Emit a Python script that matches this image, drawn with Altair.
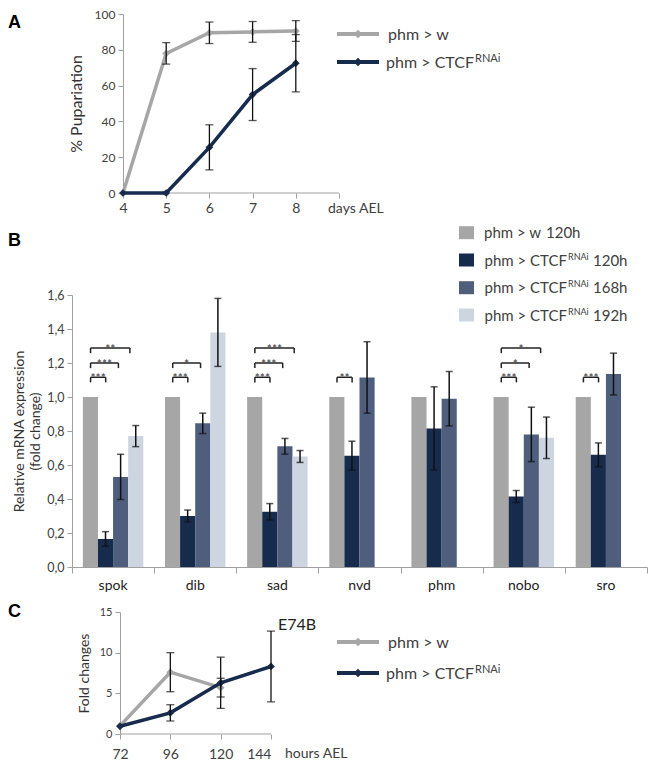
import altair as alt
import pandas as pd

FONT = "Lato"
GRAY = "#a6a6a6"
NAVY = "#172b4d"
CHECK = "#4e5e7c"
DOTS = "#cdd5e1"
AXIS = "#a0a0a0"
TXT = "#404040"
BLACK = "#111111"

# ---------------- Panel A data ----------------
days = [4, 5, 6, 7, 8]
pup_w = [0, 78, 89.5, 90, 90.5]
pup_w_err = [0, 6, 6, 5.8, 5.8]
pup_ctcf = [0, 0, 25.5, 55, 72.5]
pup_ctcf_err = [0, 0, 12.6, 14.5, 16]

# ---------------- Panel B data ----------------
genes = ["spok", "dib", "sad", "nvd", "phm", "nobo", "sro"]
series_b = ["w 120h", "CTCF 120h", "CTCF 168h", "CTCF 192h"]
expr_w120 = [1.0, 1.0, 1.0, 1.0, 1.0, 1.0, 1.0]
expr_w120_err = [0, 0, 0, 0, 0, 0, 0]
expr_c120 = [0.165, 0.30, 0.325, 0.655, 0.815, 0.415, 0.66]
expr_c120_err = [0.043, 0.035, 0.048, 0.085, 0.245, 0.035, 0.07]
expr_c168 = [0.53, 0.845, 0.71, 1.115, 0.99, 0.78, 1.135]
expr_c168_err = [0.133, 0.06, 0.046, 0.21, 0.16, 0.16, 0.123]
expr_c192 = [0.77, 1.38, 0.65, None, None, 0.76, None]
expr_c192_err = [0.062, 0.2, 0.035, None, None, 0.122, None]

sig_gene = ["spok", "spok", "spok", "dib", "dib", "sad", "sad", "sad",
            "nvd", "nobo", "nobo", "nobo", "sro"]
sig_vs = ["CTCF 120h", "CTCF 168h", "CTCF 192h", "CTCF 120h", "CTCF 168h",
          "CTCF 120h", "CTCF 168h", "CTCF 192h", "CTCF 120h",
          "CTCF 120h", "CTCF 168h", "CTCF 192h", "CTCF 120h"]
sig_label = ["***", "***", "**", "***", "*", "***", "***", "***",
             "**", "***", "*", "*", "***"]

# ---------------- Panel C data ----------------
hours = [72, 96, 120, 144]
e74_w = [1.0, 7.6, 5.7, None]
e74_w_err = [0, 2.4, 1.15, None]
e74_c = [0.95, 2.6, 6.3, 8.3]
e74_c_err = [0, 1.0, 3.15, 4.35]

# ---------------- layout constants ----------------
B_START, B_W = 0.132, 0.184
BR_START = 0.226
BR_END = {"CTCF 120h": 0.41, "CTCF 168h": 0.565, "CTCF 192h": 0.705}
BR_LVL = {"CTCF 120h": 1.116, "CTCF 168h": 1.20, "CTCF 192h": 1.288}
BR_TICK = 0.03
LETTER_X = -64
SERIES_COLORS = {"1w": GRAY, "2c": NAVY}

ONE = pd.DataFrame({"k": [0]})


def txt(s, x, y, size, align="left", baseline="alphabetic", color=TXT,
        weight="normal", font=FONT):
    return alt.Chart(ONE).mark_text(
        text=s, align=align, baseline=baseline, fontSize=size, color=color,
        fontWeight=weight, font=font
    ).encode(x=alt.value(x), y=alt.value(y))


def hline(x1, x2, y, color, w=4):
    return alt.Chart(ONE).mark_rule(color=color, strokeWidth=w).encode(
        x=alt.value(x1), x2=alt.value(x2), y=alt.value(y))


def diamond(x, y, color, size=70):
    return alt.Chart(ONE).mark_point(
        shape="diamond", filled=True, size=size, color=color, opacity=1
    ).encode(x=alt.value(x), y=alt.value(y))


def swatch(x1, x2, y1, y2, color):
    return alt.Chart(ONE).mark_rect(color=color).encode(
        x=alt.value(x1), x2=alt.value(x2), y=alt.value(y1), y2=alt.value(y2))


def line_legend(x1, x2, xm, xt, xr, ys, size):
    parts = []
    colors = [GRAY, NAVY]
    for k, y in enumerate(ys):
        parts.append(hline(x1, x2, y, colors[k]))
        parts.append(diamond(xm, y, colors[k]))
    parts.append(txt("phm > w", xt, ys[0] + 6, size))
    parts.append(txt("phm > CTCF", xr, ys[1] + 6, size, align="right"))
    parts.append(txt("RNAi", xr + 1, ys[1], 11))
    return parts


def line_rows(xvals, series):
    rows = []
    for key, vals, errs in series:
        for x, v, e in zip(xvals, vals, errs):
            if v is None:
                continue
            rows.append(dict(series=key, x=x, v=v, e=e, lo=v - e, hi=v + e))
    return pd.DataFrame(rows)


def line_panel(df, xs, ys, xax, yax, x_lo, x_hi, h):
    X = lambda f: alt.X(f, scale=xs, axis=xax)
    Y = lambda f: alt.Y(f, scale=ys, axis=yax)
    layers = [alt.Chart(ONE).mark_rule(color=AXIS, strokeWidth=1).encode(
        x=alt.XDatum(x_lo, scale=xs, axis=xax), x2=alt.X2Datum(x_hi), y=alt.value(h))]
    for key in ["1w", "2c"]:
        sub = df[df.series == key]
        c = SERIES_COLORS[key]
        layers.append(alt.Chart(sub).mark_line(strokeWidth=3.5, color=c).encode(
            x=X("x:Q"), y=Y("v:Q")))
        layers.append(alt.Chart(sub).mark_point(shape="diamond", filled=True, size=60,
                                                opacity=1, color=c).encode(
            x=X("x:Q"), y=Y("v:Q")))
    eb = alt.Chart(df[df.e > 0])
    layers.append(eb.mark_rule(color=BLACK, strokeWidth=1.3).encode(
        x=X("x:Q"), y=Y("lo:Q"), y2="hi:Q"))
    for f in ["lo:Q", "hi:Q"]:
        layers.append(eb.mark_tick(orient="horizontal", size=8, thickness=1.3,
                                   color=BLACK).encode(x=X("x:Q"), y=Y(f)))
    return layers


# ================= Panel A =================
WA, HA = 267, 179
A_SHIFT = 51  # pixels between the panel origin and the y axis
dfA = line_rows(days, [("1w", pup_w, pup_w_err), ("2c", pup_ctcf, pup_ctcf_err)])
xsA = alt.Scale(domain=[9 - 5 * WA / (WA - A_SHIFT), 9], nice=False, zero=False)
ysA = alt.Scale(domain=[0, 100], nice=False)
xaxA = alt.Axis(values=[4, 5, 6, 7, 8, 9], labelExpr="datum.value == 9 ? '' : datum.label",
                title=None, grid=False, domain=False, tickSize=5, labelPadding=3,
                labelFontSize=14, tickColor=AXIS, labelColor=TXT, labelFont=FONT)
yaxA = alt.Axis(values=[0, 20, 40, 60, 80, 100], title="% Pupariation", grid=False,
                offset=-A_SHIFT, tickSize=5, labelPadding=3, labelFontSize=12,
                titleFontSize=16, titleFontWeight="normal", titleColor="#333333",
                titlePadding=10, domainColor=AXIS, tickColor=AXIS, labelColor=TXT,
                labelFont=FONT, titleFont=FONT)
layersA = line_panel(dfA, xsA, ysA, xaxA, yaxA, 4, 9, HA)
layersA += [txt("days AEL", 256, 195, 14, baseline="middle")]
layersA += line_legend(265, 307, 286, 316, 402, [20, 48], 16)
layersA += [txt("A", LETTER_X, 9, 18, baseline="middle", color="#000000", weight="bold",
                font="Liberation Sans")]
chartA = alt.layer(*layersA).properties(width=WA, height=HA)

# ================= Panel B =================
WB, HB = 575, 272
rowsB = []
for j, (key, vals, errs) in enumerate(zip(series_b,
                                          [expr_w120, expr_c120, expr_c168, expr_c192],
                                          [expr_w120_err, expr_c120_err, expr_c168_err,
                                           expr_c192_err])):
    for i, g in enumerate(genes):
        v, e = vals[i], errs[i]
        if v is None:
            continue
        x0 = i + B_START + j * B_W
        rowsB.append(dict(gene=g, series=key, x0=x0, x1=x0 + B_W, xc=x0 + B_W / 2,
                          v=v, e=e, lo=v - e, hi=v + e))
dfB = pd.DataFrame(rowsB)

rowsS, rowsT = [], []
for g, vs, lab in zip(sig_gene, sig_vs, sig_label):
    i = genes.index(g)
    xs_, xe_ = i + BR_START, i + BR_END[vs]
    lvl = BR_LVL[vs]
    rowsS.append(dict(xs=xs_, xe=xe_, xm=(xs_ + xe_) / 2, lvl=lvl, lab=lab))
    rowsT.append(dict(x=xs_, lvl=lvl, low=lvl - BR_TICK))
    rowsT.append(dict(x=xe_, lvl=lvl, low=lvl - BR_TICK))
dfS = pd.DataFrame(rowsS)
dfT = pd.DataFrame(rowsT)
dfG = pd.DataFrame({"gene": genes, "xc": [i + 0.5 for i in range(len(genes))]})

xsB = alt.Scale(domain=[0, 7], nice=False, zero=False)
ysB = alt.Scale(domain=[0, 1.6], nice=False)
xaxB = alt.Axis(values=list(range(8)), labels=False, title=None, grid=False, tickSize=6,
                domainColor=AXIS, tickColor=AXIS)
yaxB = alt.Axis(values=[0, 0.2, 0.4, 0.6, 0.8, 1.0, 1.2, 1.4, 1.6],
                labelExpr="replace(format(datum.value, '.1f'), '.', ',')",
                title=["Relative mRNA expression", "(fold change)"], grid=False,
                tickSize=5, labelPadding=3, labelFontSize=12.5, titleFontSize=14,
                titleFontWeight="normal", titleColor="#333333", titlePadding=4,
                titleLineHeight=16, domainColor=AXIS, tickColor=AXIS, labelColor=TXT,
                labelFont=FONT, titleFont=FONT)
XB = lambda f: alt.X(f, scale=xsB, axis=xaxB)
YB = lambda f: alt.Y(f, scale=ysB, axis=yaxB)

bars = alt.Chart(dfB).mark_rect().encode(
    x=XB("x0:Q"), x2="x1:Q", y=YB("v:Q"), y2=alt.datum(0),
    color=alt.Color("series:N", scale=alt.Scale(domain=series_b,
                                                range=[GRAY, NAVY, CHECK, DOTS]),
                    legend=None))
ebB = alt.Chart(dfB[dfB.e > 0])
eruleB = ebB.mark_rule(color=BLACK, strokeWidth=1.5).encode(x=XB("xc:Q"), y=YB("lo:Q"), y2="hi:Q")
ecap1B = ebB.mark_tick(orient="horizontal", size=7, thickness=1.5, color=BLACK).encode(
    x=XB("xc:Q"), y=YB("lo:Q"))
ecap2B = ebB.mark_tick(orient="horizontal", size=7, thickness=1.5, color=BLACK).encode(
    x=XB("xc:Q"), y=YB("hi:Q"))
brH = alt.Chart(dfS).mark_rule(color="#222222", strokeWidth=1.5).encode(
    x=XB("xs:Q"), x2="xe:Q", y=YB("lvl:Q"))
brV = alt.Chart(dfT).mark_rule(color="#222222", strokeWidth=1.5).encode(
    x=XB("x:Q"), y=YB("lvl:Q"), y2="low:Q")
stars = alt.Chart(dfS).mark_text(fontSize=12, color="#333333", baseline="alphabetic",
                                 dy=5, font=FONT).encode(
    x=XB("xm:Q"), y=YB("lvl:Q"), text="lab:N")
glabels = alt.Chart(dfG).mark_text(fontSize=14, color="#222222", baseline="middle",
                                   font=FONT).encode(
    x=XB("xc:Q"), y=alt.value(HB + 19), text="gene:N")

layersB = [bars, eruleB, ecap1B, ecap2B, brH, brV, stars, glabels]
leg_colors = [GRAY, NAVY, CHECK, DOTS]
leg_y = [-62.3, -35, -7.3, 20]
for k in range(4):
    yc = leg_y[k]
    layersB.append(swatch(387, 402, yc - 6.5, yc + 6.5, leg_colors[k]))
    if k == 0:
        layersB.append(txt("phm > w", 412, yc + 5.5, 15))
        layersB.append(txt("120h", 474, yc + 5.5, 15))
    else:
        layersB.append(txt("phm > CTCF", 495, yc + 5.5, 15, align="right"))
        layersB.append(txt("RNAi", 496, yc - 0.5, 9))
        layersB.append(txt(series_b[k].split(" ")[1], 521, yc + 5.5, 15))
layersB.append(txt("B", LETTER_X, -54, 18, baseline="middle", color="#000000",
                   weight="bold", font="Liberation Sans"))
chartB = alt.layer(*layersB).properties(width=WB, height=HB)

# ================= Panel C =================
WC, HC = 199, 122
C_SHIFT = 48
dfC = line_rows(hours, [("1w", e74_w, e74_w_err), ("2c", e74_c, e74_c_err)])
xsC = alt.Scale(domain=[144 - 72 * WC / (WC - C_SHIFT), 144], nice=False, zero=False)
ysC = alt.Scale(domain=[0, 15], nice=False)
xaxC = alt.Axis(values=hours, title=None, grid=False, domain=False, tickSize=5,
                labelPadding=8, labelFontSize=14, tickColor=AXIS, labelColor=TXT,
                labelFont=FONT)
yaxC = alt.Axis(values=[0, 5, 10, 15], title="Fold changes", grid=False, offset=-C_SHIFT,
                tickSize=5, labelPadding=3, labelFontSize=11, titleFontSize=14,
                titleFontWeight="normal", titleColor="#333333", titlePadding=8,
                domainColor=AXIS, tickColor=AXIS, labelColor=TXT, labelFont=FONT,
                titleFont=FONT)
layersC = line_panel(dfC, xsC, ysC, xaxC, yaxC, 72, 144, HC)
layersC += [txt("hours AEL", 213, HC + 20, 14, baseline="middle"),
            txt("E74B", 206, 13, 16, baseline="middle", color="#222222")]
layersC += line_legend(265, 307, 286, 316, 402, [30, 61], 16)
layersC += [txt("C", LETTER_X, 0, 18, baseline="middle", color="#000000", weight="bold",
                font="Liberation Sans")]
chartC = alt.layer(*layersC).properties(width=WC, height=HC)

chart = alt.vconcat(chartA, chartB, chartC, spacing=10).properties(
    padding=0
).configure_view(stroke="transparent", strokeWidth=0)

chart.save("out.html", embed_options={"renderer": "svg", "actions": False})
